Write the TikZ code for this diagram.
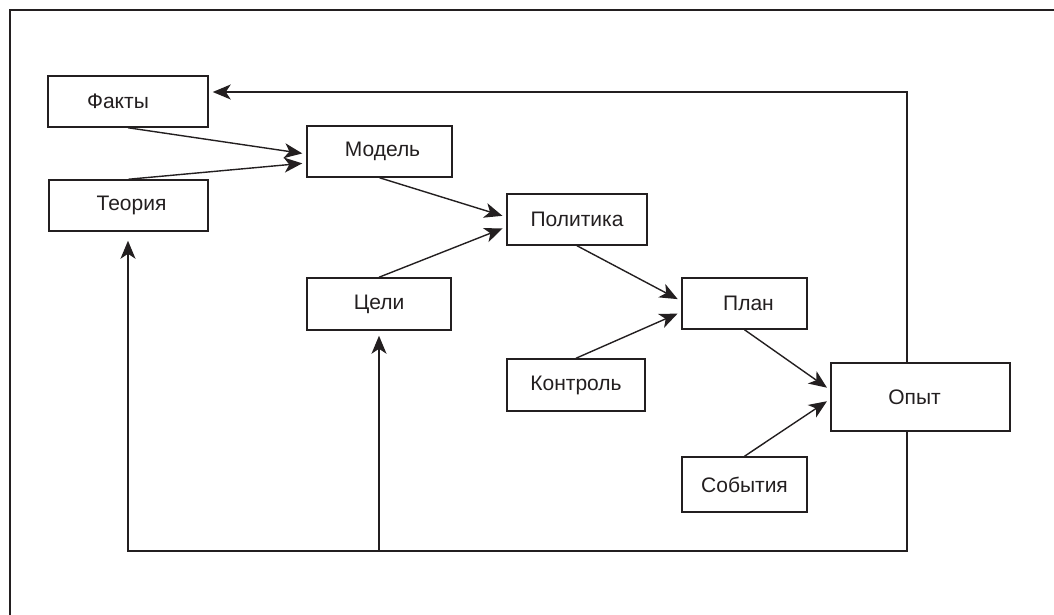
\documentclass[tikz,border=0pt]{standalone}
\usepackage{fontspec}
\setmainfont{Liberation Sans}
\usetikzlibrary{arrows.meta}
\definecolor{ink}{HTML}{231F20}
\begin{document}
\begin{tikzpicture}[x=1pt,y=-1pt,
  box/.style={draw=ink, line width=1.5pt, fill=white, inner sep=0pt,
              font=\fontsize{21}{24}\selectfont, text=ink},
  link/.style={draw=ink, line width=1.4pt,
               -{Stealth[length=18pt,width=15pt,inset=5pt]}, shorten >=4pt},
  frameline/.style={draw=ink, line width=1.8pt}]
  \useasboundingbox (0,0) rectangle (1054,615);
  % page frame (top and left edges)
  \draw[frameline] (10,615) -- (10,10) -- (1054,10);

  % blocks
  \node[box, minimum width=160pt, minimum height=51pt] (fakty)    at (128,101.5) {\hspace*{-20pt}Факты};
  \node[box, minimum width=159pt, minimum height=51pt] (teoria)   at (128.5,205.5) {\hspace*{6pt}Теория};
  \node[box, minimum width=145pt, minimum height=51pt] (model)    at (379.5,151.5) {\hspace*{6pt}Модель};
  \node[box, minimum width=140pt, minimum height=51pt] (politika) at (577,219.5) {Политика};
  \node[box, minimum width=144pt, minimum height=52pt] (celi)     at (379,304) {Цели};
  \node[box, minimum width=125pt, minimum height=51pt] (plan)     at (744.5,303.5) {\hspace*{8pt}План};
  \node[box, minimum width=138pt, minimum height=52pt] (kontrol)  at (576,385) {Контроль};
  \node[box, minimum width=179pt, minimum height=68pt] (opyt)     at (920.5,397) {\hspace*{-12pt}Опыт};
  \node[box, minimum width=125pt, minimum height=55pt] (sobytia)  at (744.5,484.5) {События};

  % forward links
  \draw[link] (fakty.south)    -- ([yshift=-2.5pt]model.west);
  \draw[link] (teoria.north)   -- ([yshift=-11.5pt]model.west);
  \draw[link] (model.south)    -- ([yshift=2.5pt]politika.west);
  \draw[link] (celi.north)     -- ([yshift=-7.5pt]politika.west);
  \draw[link] (politika.south) -- ([yshift=2.5pt]plan.west);
  \draw[link] (kontrol.north)  -- ([yshift=-8.5pt]plan.west);
  \draw[link] (plan.south)     -- ([yshift=7pt]opyt.west);
  \draw[link] (sobytia.north)  -- ([yshift=-2pt]opyt.west);

  % feedback loops
  \coordinate (topturn) at (907,92);
  \coordinate (botturn) at (907,551);
  \coordinate (leftturn) at (128,551);
  \coordinate (midfork) at (379,551);
  \draw[link] ([xshift=-13.5pt]opyt.north) -- (topturn) -- ([yshift=9.5pt]fakty.east);
  \draw[link, shorten >=9pt] ([xshift=-13.5pt]opyt.south) -- (botturn) -- (leftturn) -- (leftturn |- teoria.south);
  \draw[link, shorten >=5pt] (midfork) -- (celi.south);
\end{tikzpicture}
\end{document}
